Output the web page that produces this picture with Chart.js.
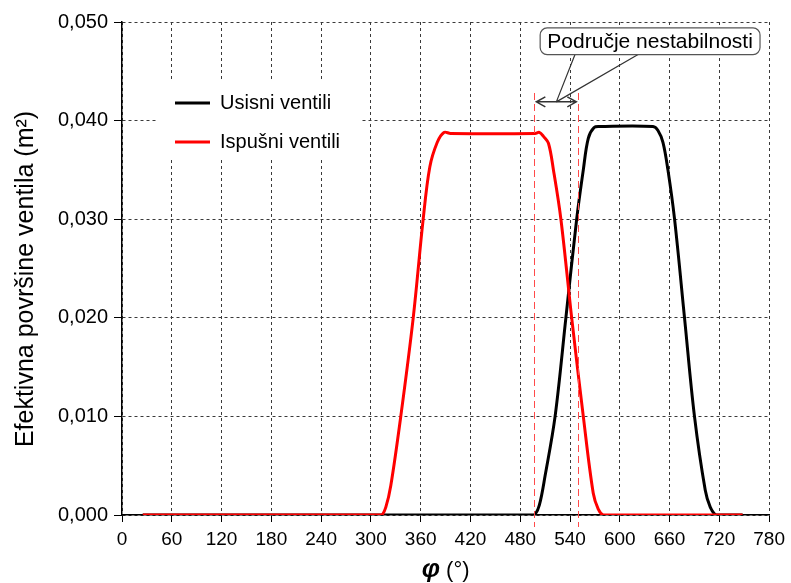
<!DOCTYPE html>
<html>
<head>
<meta charset="utf-8">
<script src="https://cdn.jsdelivr.net/npm/chart.js@4.4.1/dist/chart.umd.min.js"></script>
<style>
html, body { margin: 0; padding: 0; background: #fff; }
</style>
</head>
<body>
<canvas id="valves" width="791" height="583"></canvas>
<script>
// crank angle (deg) vs effective valve area (m2)
const intakeAngle = [25, 480, 490, 497, 503, 510, 522, 535, 548, 556, 562, 569, 576, 640, 646, 652, 658, 666, 678, 690, 703, 709, 716, 725, 735, 748];
const intakeArea = [0, 0, 0, 0, 0.0010, 0.0040, 0.0100, 0.0200, 0.0300, 0.0350, 0.0382, 0.0393, 0.0394, 0.0394, 0.0390, 0.0378, 0.0350, 0.0300, 0.0200, 0.0100, 0.0025, 0.0008, 0, 0, 0, 0];

const exhaustAngle = [25, 295, 305, 313, 318, 324, 336, 351, 363, 371, 380, 388, 396, 498, 503, 508, 514, 520, 529, 542, 556, 568, 574, 580, 590, 600, 748];
const exhaustArea = [0, 0, 0, 0, 0.0008, 0.0030, 0.0100, 0.0200, 0.0300, 0.0353, 0.0378, 0.0388, 0.0387, 0.0387, 0.0388, 0.0384, 0.0377, 0.0350, 0.0300, 0.0200, 0.0100, 0.0022, 0.0006, 0, 0, 0, 0];

const seriesNames = ['Usisni ventili', 'Ispušni ventili'];
const seriesColors = ['#000000', '#ff0000'];

// instability zone (deg) and its label
const instability = [497, 550];
const instabilityLabel = 'Područje nestabilnosti';

const yTitle = 'Efektivna površine ventila (m²)';

const font = "'Liberation Sans', Arial, sans-serif";

function pts(xs, ys) {
    return xs.map((v, i) => ({ x: v, y: ys[i] }));
}

//legend, instability markers and axis titles
const decor = {
    id: 'decor',
    afterDatasetsDraw(chart) {
        const { ctx, scales: { x, y } } = chart;
        ctx.save();

        // legend
        ctx.fillStyle = '#fff';
        ctx.fillRect(158, 80, 204, 80);
        ctx.font = '20px ' + font;
        ctx.textBaseline = 'middle';
        seriesNames.forEach((name, i) => {
            const ly = 103 + i * 39;
            ctx.strokeStyle = seriesColors[i];
            ctx.lineWidth = 3;
            ctx.beginPath();
            ctx.moveTo(175, ly);
            ctx.lineTo(210, ly);
            ctx.stroke();
            ctx.fillStyle = '#000';
            ctx.fillText(name, 220, ly);
        });

        // red dashed limits
        ctx.strokeStyle = '#ff4a4a';
        ctx.lineWidth = 1;
        ctx.setLineDash([7, 4]);
        instability.forEach(v => {
            const px = Math.round(x.getPixelForValue(v)) + 0.5;
            ctx.beginPath();
            ctx.moveTo(px, y.getPixelForValue(0.0428));
            ctx.lineTo(px, y.bottom + 12);
            ctx.stroke();
        });
        ctx.setLineDash([]);

        // double arrow
        const ax1 = x.getPixelForValue(instability[0]) + 2;
        const ax2 = x.getPixelForValue(instability[1]) - 2;
        const ay = y.getPixelForValue(0.0419);
        ctx.strokeStyle = '#333';
        ctx.lineWidth = 1.5;
        ctx.beginPath();
        ctx.moveTo(ax1, ay); ctx.lineTo(ax2, ay);
        ctx.moveTo(ax1 + 9, ay - 5); ctx.lineTo(ax1, ay); ctx.lineTo(ax1 + 9, ay + 5);
        ctx.moveTo(ax2 - 9, ay - 5); ctx.lineTo(ax2, ay); ctx.lineTo(ax2 - 9, ay + 5);
        ctx.stroke();

        // callout
        const bx1 = x.getPixelForValue(504), bx2 = x.getPixelForValue(769);
        const by1 = y.getPixelForValue(0.0494), by2 = y.getPixelForValue(0.0467);
        const mx = (ax1 + ax2) / 2;
        ctx.lineWidth = 1.2;
        ctx.beginPath();
        ctx.moveTo(x.getPixelForValue(546), by2); ctx.lineTo(mx, ay);
        ctx.moveTo(x.getPixelForValue(622), by2); ctx.lineTo(mx, ay);
        ctx.stroke();
        ctx.fillStyle = '#fff';
        ctx.strokeStyle = '#555';
        ctx.beginPath();
        ctx.roundRect(bx1, by1, bx2 - bx1, by2 - by1, 7);
        ctx.fill();
        ctx.stroke();
        ctx.fillStyle = '#000';
        ctx.font = '21px ' + font;
        ctx.textAlign = 'center';
        ctx.fillText(instabilityLabel, (bx1 + bx2) / 2, (by1 + by2) / 2 + 1);

        // y title
        ctx.save();
        ctx.translate(26, 279);
        ctx.rotate(-Math.PI / 2);
        ctx.font = '25px ' + font;
        ctx.textBaseline = 'middle';
        ctx.fillText(yTitle, 0, 0);
        ctx.restore();

        // x title: phi (deg)
        ctx.textAlign = 'left';
        ctx.textBaseline = 'alphabetic';
        const phiFont = 'bold italic 26px ' + font;
        const unitFont = '22px ' + font;
        ctx.font = phiFont;
        const wPhi = ctx.measureText('φ').width;
        ctx.font = unitFont;
        const wUnit = ctx.measureText(' (°)').width;
        let tx = (x.left + x.right) / 2 - (wPhi + wUnit) / 2;
        ctx.font = phiFont;
        ctx.fillText('φ', tx, 577);
        ctx.font = unitFont;
        ctx.fillText(' (°)', tx + wPhi, 577);

        ctx.restore();
    }
};

new Chart(document.getElementById('valves'), {
    type: 'line',
    data: {
        datasets: [{
            label: seriesNames[0],
            data: pts(intakeAngle, intakeArea),
            borderColor: seriesColors[0],
            borderWidth: 3,
            pointRadius: 0,
            tension: 0.35,
            order: 2
        }, {
            label: seriesNames[1],
            data: pts(exhaustAngle, exhaustArea),
            borderColor: seriesColors[1],
            borderWidth: 3,
            pointRadius: 0,
            tension: 0.35,
            order: 1
        }]
    },
    options: {
        responsive: false,
        animation: false,
        devicePixelRatio: 1,
        layout: { padding: { top: 22, right: 19, bottom: 0, left: 0 } },
        plugins: {
            legend: { display: false },
            tooltip: { enabled: false }
        },
        scales: {
            x: {
                type: 'linear',
                min: 0,
                max: 780,
                ticks: { stepSize: 60, color: '#000', padding: 6, font: { family: font, size: 19 } },
                grid: { color: '#3a3a3a', tickColor: '#000', tickLength: 7 },
                border: { color: '#000', width: 1.5, dash: [3, 3] },
                afterFit(s) { s.height = 68; }
            },
            y: {
                min: 0,
                max: 0.05,
                ticks: {
                    stepSize: 0.01,
                    color: '#000',
                    padding: 6,
                    font: { family: font, size: 20 },
                    callback: v => v.toFixed(3).replace('.', ',')
                },
                grid: { color: '#3a3a3a', tickColor: '#000', tickLength: 8 },
                border: { color: '#000', width: 1.5, dash: [3, 3] },
                afterFit(s) { s.width = 122; }
            }
        }
    },
    plugins: [decor]
});
</script>
</body>
</html>
